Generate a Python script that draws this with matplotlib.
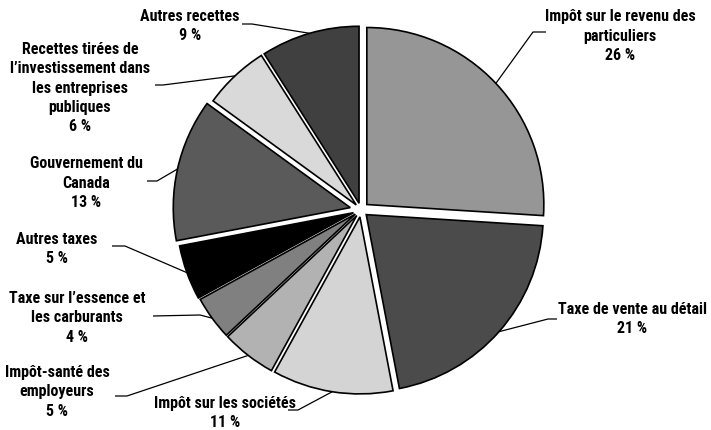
import matplotlib
matplotlib.use('Agg')
import matplotlib.pyplot as plt
import numpy as np

plt.rcParams['font.family'] = ['Roboto Condensed', 'DejaVu Sans']

labels = [
    'Impôt sur le revenu des\nparticuliers',
    'Taxe de vente au détail',
    'Impôt sur les sociétés',
    'Impôt-santé des\nemployeurs',
    'Taxe sur l\u2019essence et\nles carburants',
    'Autres taxes',
    'Gouvernement du\nCanada',
    'Recettes tirées de\nl\u2019investissement dans\nles entreprises\npubliques',
    'Autres recettes',
]
shares = [26, 21, 11, 5, 4, 5, 13, 6, 9]
colors = ['#969696', '#4b4b4b', '#d4d4d4', '#b2b2b2', '#808080',
          '#000000', '#5a5a5a', '#d9d9d9', '#404040']

W, H = 711, 431

# layout in pixel coords (y down): text centre, elbow, end of horizontal
layout = [
    ((620, 36), (533, 33), (546, 33)),
    ((632, 319), (548, 320), (557, 320)),
    ((225, 413), (298, 411), (288, 411)),
    ((57, 392), (127, 397), (115, 397)),
    ((77, 318), (200, 316), (153, 317)),
    ((57, 249), (125, 247), (112, 247)),
    ((86, 183), (157, 182), (147, 182)),
    ((80, 88), (163, 86), (155, 86)),
    ((190, 26), (252, 25), (242, 25)),
]
explode = [8, 7, 7, 7, 7, 8, 11, 7, 7]

fig = plt.figure(figsize=(W / 100, H / 100), dpi=100)
ax = fig.add_axes([0, 0, 1, 1])

wedges, _ = ax.pie(shares, colors=colors, startangle=90, counterclock=False,
                   radius=177, center=(361, H - 211), explode=explode,
                   wedgeprops=dict(edgecolor='black', linewidth=1.2))

for w, lab, pct, (txt, elbow, end) in zip(wedges, labels, shares, layout):
    ang = np.deg2rad((w.theta1 + w.theta2) / 2)
    ax_x = w.center[0] + w.r * np.cos(ang)
    ax_y = w.center[1] + w.r * np.sin(ang)
    ax.plot([ax_x, elbow[0], end[0]], [ax_y, H - elbow[1], H - end[1]],
            color='black', lw=0.9, solid_capstyle='butt')
    ax.text(txt[0], H - txt[1], '%s\n%d %%' % (lab, pct), ha='center',
            va='center', fontsize=11.5, fontweight='bold', linespacing=1.37)

ax.set_xlim(0, W)
ax.set_ylim(0, H)
ax.set_aspect('auto')
ax.axis('off')

fig.savefig('out.png', dpi=100)
